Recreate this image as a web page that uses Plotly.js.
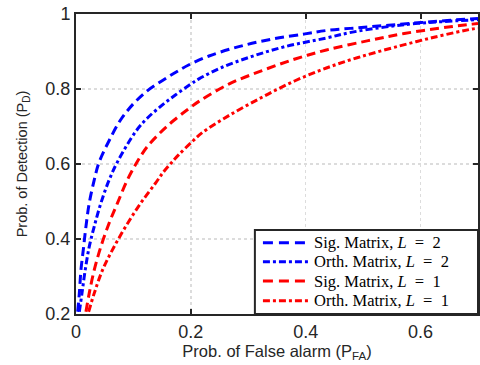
<!DOCTYPE html>
<html>
<head>
<meta charset="utf-8">
<script src="https://cdn.plot.ly/plotly-3.0.1.min.js"></script>
<style>html,body{margin:0;padding:0;background:#fff;}#chart{width:480px;height:365px;}</style>
</head>
<body>
<div id="chart"></div>
<script>
// Sig. Matrix, L = 2
const sigL2_pfa = [0.0029, 0.0058, 0.0086, 0.0127, 0.0173, 0.023, 0.0317, 0.0403, 0.0576, 0.0778, 0.1008, 0.124, 0.15, 0.173, 0.196, 0.2316, 0.2835, 0.341, 0.399, 0.436, 0.497, 0.56, 0.6235, 0.687, 0.7];
const sigL2_pd  = [0.206, 0.255, 0.317, 0.371, 0.433, 0.495, 0.557, 0.605, 0.662, 0.718, 0.762, 0.795, 0.822, 0.844, 0.864, 0.888, 0.913, 0.933, 0.947, 0.956, 0.964, 0.972, 0.98, 0.987, 0.988];
// Orth. Matrix, L = 2
const orthL2_pfa = [0.0058, 0.0104, 0.016, 0.023, 0.0317, 0.0432, 0.0576, 0.072, 0.1037, 0.124, 0.15, 0.173, 0.199, 0.214, 0.2546, 0.3065, 0.364, 0.436, 0.479, 0.537, 0.595, 0.687, 0.7];
const orthL2_pd  = [0.206, 0.255, 0.317, 0.379, 0.433, 0.495, 0.557, 0.605, 0.686, 0.722, 0.757, 0.784, 0.812, 0.827, 0.858, 0.887, 0.913, 0.936, 0.951, 0.965, 0.975, 0.984, 0.985];
// Sig. Matrix, L = 1
const sigL1_pfa = [0.0173, 0.023, 0.0317, 0.0432, 0.0576, 0.072, 0.0893, 0.1066, 0.124, 0.147, 0.17, 0.196, 0.214, 0.266, 0.324, 0.3815, 0.436, 0.509, 0.5716, 0.652, 0.69, 0.7];
const sigL1_pd  = [0.206, 0.255, 0.317, 0.379, 0.442, 0.495, 0.557, 0.606, 0.646, 0.684, 0.716, 0.747, 0.767, 0.813, 0.849, 0.88, 0.904, 0.929, 0.948, 0.966, 0.973, 0.975];
// Orth. Matrix, L = 1
const orthL1_pfa = [0.022, 0.0317, 0.0461, 0.0634, 0.0864, 0.1124, 0.138, 0.153, 0.167, 0.179, 0.204, 0.22, 0.266, 0.324, 0.3815, 0.436, 0.491, 0.554, 0.6235, 0.69, 0.7];
const orthL1_pd  = [0.206, 0.255, 0.317, 0.371, 0.433, 0.495, 0.548, 0.58, 0.605, 0.625, 0.662, 0.684, 0.729, 0.778, 0.822, 0.856, 0.884, 0.911, 0.938, 0.96, 0.962];

const names = ['Sig. Matrix, <i>L</i>\u2002=\u20022', 'Orth. Matrix, <i>L</i>\u2002=\u20022', 'Sig. Matrix, <i>L</i>\u2002=\u20021', 'Orth. Matrix, <i>L</i>\u2002=\u20021'];
const colors = ['#0000ff', '#0000ff', '#ff0000', '#ff0000'];
const xTicks = [0, 0.2, 0.4, 0.6];
const xTickText = ['0', '0.2', '0.4', '0.6'];
const yTicks = [0.2, 0.4, 0.6, 0.8, 1];
const yTickText = ['0.2', '0.4', '0.6', '0.8', '1'];

const dashed = '9px,5px';
const dashdot = '7px,3px,3px,3px';
const dashes = [dashed, dashdot, dashed, dashdot];
function tr(x, y, i) {
  return {x: x, y: y, name: names[i], type: 'scatter', mode: 'lines', showlegend: false,
    line: {color: colors[i], width: 3, dash: dashes[i], shape: 'spline', smoothing: 1}};
}
const data = [
  tr(sigL2_pfa, sigL2_pd, 0),
  tr(orthL2_pfa, orthL2_pd, 1),
  tr(sigL1_pfa, sigL1_pd, 2),
  tr(orthL1_pfa, orthL1_pd, 3)
];

// manual legend (paper coordinates)
const legX0 = 0.445, legX1 = 1, legY0 = 0, legY1 = 0.28;
const rowY = [0.2377, 0.1743, 0.11, 0.0443];
const shapes = [{type: 'rect', xref: 'paper', yref: 'paper', x0: legX0, x1: legX1, y0: legY0, y1: legY1,
  fillcolor: '#fff', line: {color: '#262626', width: 2}}];
const annotations = [];
const legendDashes = ['10px,6px', '7px,3px,3px,3px', '10px,6px', '7px,3px,3px,3px'];
for (let i = 0; i < 4; i++) {
  shapes.push({type: 'line', xref: 'paper', yref: 'paper', x0: 0.465, x1: 0.58, y0: rowY[i], y1: rowY[i],
    line: {color: colors[i], width: 3, dash: legendDashes[i]}});
  annotations.push({xref: 'paper', yref: 'paper', x: 0.588, y: rowY[i], xanchor: 'left', yanchor: 'middle',
    text: names[i], showarrow: false,
    font: {family: 'Liberation Serif, Times New Roman, serif', size: 16.5, color: '#000'}});
}

const tickFont = {family: 'Liberation Sans, Arial, sans-serif', size: 18, color: '#262626'};
const axisCommon = {
  showline: true, linecolor: '#262626', linewidth: 2, mirror: 'ticks',
  ticks: 'inside', ticklen: 5, tickwidth: 2, tickcolor: '#262626',
  showgrid: true, gridcolor: '#dcdcdc', gridwidth: 1.5, griddash: 'dot',
  zeroline: false
};
const layout = {
  width: 480, height: 365,
  margin: {l: 76, r: 2, t: 14, b: 51},
  paper_bgcolor: '#fff', plot_bgcolor: '#fff',
  showlegend: false,
  xaxis: Object.assign({}, axisCommon, {
    range: [0, 0.7], tickvals: xTicks, ticktext: xTickText, tickfont: tickFont,
    title: {text: 'Prob. of False alarm (P<sub>FA</sub>)', font: {family: 'Liberation Sans, Arial, sans-serif', size: 16.5, color: '#262626'}, standoff: 2}
  }),
  yaxis: Object.assign({}, axisCommon, {
    range: [0.2, 1], tickvals: yTicks, ticktext: yTickText, tickfont: tickFont,
    title: {text: 'Prob. of Detection (P<sub>D</sub>)', font: {family: 'Liberation Sans, Arial, sans-serif', size: 14.5, color: '#262626'}, standoff: 14}
  }),
  shapes: shapes,
  annotations: annotations
};
Plotly.newPlot('chart', data, layout, {displayModeBar: false, staticPlot: true});
</script>
</body>
</html>
